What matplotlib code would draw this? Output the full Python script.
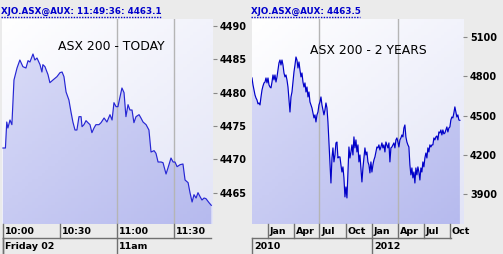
import numpy as np
import pandas as pd
import matplotlib
matplotlib.use('Agg')
import matplotlib.pyplot as plt
import matplotlib.dates as mdates
from matplotlib.colors import to_rgb
from matplotlib.lines import Line2D
from matplotlib.transforms import offset_copy

# intraday data: minutes after 10:00 and index level
today_min = [0.0, 1.3, 2.0, 2.6, 3.7, 4.7, 5.8, 7.4, 8.9, 10.5,
             12.1, 13.2, 14.2, 15.8, 16.8, 17.9, 19.5, 20.5, 21.0, 22.1,
             23.7, 24.7, 26.3, 28.4, 30.0, 31.1, 32.1, 33.2, 34.7, 35.8,
             36.8, 37.9, 38.9, 40.0, 41.1, 41.6, 42.6, 43.7, 44.7, 45.8,
             46.8, 47.9, 48.9, 50.5, 51.6, 53.2, 54.7, 56.3, 57.4, 58.4,
             59.5, 60.5, 61.6, 62.6, 63.7, 64.7, 65.8, 66.8, 67.9, 68.9,
             70.0, 71.6, 72.6, 73.7, 75.3, 76.8, 77.9, 79.5, 80.5, 81.6,
             83.2, 84.2, 85.8, 86.8, 88.4, 89.5, 90.5, 91.6, 93.2, 94.7,
             95.8, 97.4, 98.4, 99.5, 100.5, 101.6, 102.6, 103.7, 104.7, 105.8,
             106.8, 108.4, 109.6]
today_val = [4471.7, 4471.7, 4475.6, 4474.7, 4475.9, 4475.2, 4481.9, 4483.7, 4484.9, 4483.9,
             4483.7, 4484.8, 4484.6, 4485.8, 4484.9, 4485.2, 4484.2, 4483.1, 4484.2, 4483.9,
             4482.7, 4481.5, 4481.9, 4482.4, 4483.0, 4483.1, 4482.4, 4480.1, 4478.9, 4477.1,
             4475.6, 4474.4, 4474.4, 4476.4, 4476.4, 4474.9, 4475.2, 4475.8, 4475.5, 4475.2,
             4474.0, 4474.7, 4475.2, 4475.2, 4475.5, 4476.2, 4475.6, 4476.7, 4475.9, 4478.5,
             4477.9, 4477.9, 4479.4, 4480.7, 4480.0, 4476.4, 4478.2, 4477.4, 4477.4, 4475.5,
             4476.4, 4476.7, 4476.2, 4475.6, 4475.2, 4474.4, 4471.1, 4471.3, 4470.9, 4469.6,
             4469.6, 4469.5, 4467.8, 4468.7, 4470.2, 4469.6, 4469.6, 4468.9, 4469.2, 4469.3,
             4466.9, 4466.5, 4465.0, 4463.6, 4464.7, 4464.2, 4465.0, 4464.4, 4463.9, 4464.2,
             4464.1, 4463.5, 4463.1]

# two year data (sampled evenly between the two dates)
years_start, years_end = '2010-11-06', '2012-11-05'
years_val = [4787, 4734, 4695, 4657, 4634, 4619, 4589, 4596, 4581, 4642,
             4695, 4726, 4749, 4756, 4787, 4749, 4787, 4734, 4718, 4711,
             4756, 4810, 4772, 4810, 4756, 4795, 4848, 4902, 4924, 4886,
             4924, 4886, 4825, 4795, 4810, 4772, 4718, 4619, 4527, 4642,
             4680, 4756, 4833, 4886, 4947, 4924, 4863, 4909, 4848, 4795,
             4825, 4756, 4718, 4749, 4680, 4718, 4642, 4680, 4604, 4581,
             4558, 4520, 4482, 4505, 4451, 4505, 4527, 4581, 4604, 4642,
             4581, 4543, 4505, 4543, 4596, 4558, 4451, 4298, 4146, 3985,
             4176, 4253, 4146, 4199, 4291, 4298, 4176, 4184, 4184, 4123,
             4069, 4108, 4024, 3879, 3955, 3871, 4069, 4260, 4176, 4222,
             4276, 4199, 4337, 4253, 4314, 4222, 4276, 4146, 4199, 4100,
             3993, 4100, 4176, 4253, 4199, 4222, 4146, 4123, 4062, 4146,
             4069, 4123, 4161, 4184, 4222, 4260, 4253, 4276, 4237, 4260,
             4291, 4253, 4276, 4222, 4298, 4276, 4253, 4291, 4146, 4253,
             4260, 4276, 4291, 4253, 4314, 4329, 4298, 4260, 4314, 4329,
             4352, 4337, 4405, 4428, 4337, 4298, 4276, 4260, 4123, 4047,
             4100, 4024, 4069, 3985, 4100, 4047, 4108, 4069, 4008, 4100,
             4069, 4146, 4108, 4176, 4214, 4176, 4253, 4222, 4276, 4260,
             4276, 4276, 4329, 4314, 4337, 4344, 4314, 4375, 4367, 4390,
             4352, 4390, 4360, 4367, 4390, 4413, 4375, 4405, 4413, 4466,
             4489, 4482, 4520, 4566, 4527, 4489, 4505, 4466, 4463.5]

today_yticks = [4465, 4470, 4475, 4480, 4485, 4490]
years_yticks = [3900, 4200, 4500, 4800, 5100]
today_xticks = [0, 30, 60, 90]
today_xlabels = ['10:00', '10:30', '11:00', '11:30']
years_xticks = ['2011-01-01', '2011-04-01', '2011-07-01', '2011-10-01',
                '2012-01-01', '2012-04-01', '2012-07-01', '2012-10-01']
years_xlabels = ['Jan', 'Apr', 'Jul', 'Oct', 'Jan', 'Apr', 'Jul', 'Oct']

W, H = 503, 254
BG = '#ebebeb'
fig = plt.figure(figsize=(W / 100, H / 100), dpi=100, facecolor=BG)
plt.rcParams['font.family'] = 'DejaVu Sans'


def gradient(c0, c1, n=64):
    a, b = np.array(to_rgb(c0)), np.array(to_rgb(c1))
    gx, gy = np.meshgrid(np.linspace(0, 1, n), np.linspace(0, 1, n))
    f = (0.45 * gx + 0.55 * gy)[..., None]
    return a * (1 - f) + b * f


def panel(x0, y0, x1, y1, x, y, xlim, ylim, yticks, grid_x, lc):
    ax = fig.add_axes([x0 / W, 1 - y1 / H, (x1 - x0) / W, (y1 - y0) / H])
    ax.set_xlim(xlim)
    ax.set_ylim(ylim)
    ax.imshow(gradient('#ffffff', '#e2e4f7'), extent=[0, 1, 0, 1],
              transform=ax.transAxes, aspect='auto', zorder=0)
    poly = ax.fill_between(x, y, ylim[0], color='none', lw=0)
    im = ax.imshow(gradient('#dcdef8', '#b6baee'), extent=[0, 1, 0, 1],
                   transform=ax.transAxes, aspect='auto', zorder=1)
    im.set_clip_path(poly.get_paths()[0], transform=ax.transData)
    for g in grid_x:
        ax.axvline(g, color='#b5b5b5', lw=1, zorder=2)
    ax.plot(x, y, color=lc, lw=0.85, zorder=3)
    for s in ax.spines.values():
        s.set_visible(False)
    ax.set_xticks([])
    ax.yaxis.tick_right()
    ax.set_yticks(yticks)
    ax.tick_params(axis='y', length=3, width=0.8, color='#888888', pad=2,
                   labelsize=7)
    for lab in ax.get_yticklabels():
        lab.set_fontweight('bold')
    return ax


def axis_rows(ax, y0, y1, ticks, labels, row2_x, row2_labels, row2_left, hline_end):
    trans = ax.get_xaxis_transform()
    tr_txt = offset_copy(trans, fig=fig, x=2, units='dots')
    fy = lambda p: (y1 - p) / (y1 - y0)
    kw = dict(color='#707070', lw=1, transform=trans, clip_on=False)
    for t, lab in zip(ticks, labels):
        ax.add_line(Line2D([t, t], [fy(224), fy(238)], **kw))
        ax.text(t, fy(231), lab, transform=tr_txt, ha='left', va='center',
                fontsize=6.8, fontweight='bold', color='black', clip_on=False)
    ax.add_line(Line2D([row2_left, hline_end], [fy(238), fy(238)], **kw))
    ax.add_line(Line2D([row2_left, row2_left], [fy(238), fy(254)], **kw))
    for t, lab in zip(row2_x, row2_labels):
        ax.add_line(Line2D([t, t], [fy(238), fy(254)], **kw))
        ax.text(t, fy(246.5), lab, transform=tr_txt, ha='left', va='center',
                fontsize=6.8, fontweight='bold', color='black', clip_on=False)


# left panel: today
ax1 = panel(2, 19, 213, 224, today_min, today_val, (-0.5, 110.5),
            (4460.3, 4491.05), today_yticks, [60, 90], '#2626d4')
axis_rows(ax1, 19, 224, today_xticks, today_xlabels, [0, 60],
          ['Friday 02', '11am'], 0, 109.5)

# right panel: 2 years
dates = pd.date_range(years_start, years_end, periods=len(years_val))
dnum = mdates.date2num(dates)
xt = mdates.date2num(pd.to_datetime(years_xticks))
xl = (mdates.date2num(pd.Timestamp('2010-11-06')),
      mdates.date2num(pd.Timestamp('2012-11-16')))
ax2 = panel(252, 19, 463, 224, dnum, years_val, xl, (3672, 5237),
            years_yticks, [xt[2], xt[5]], '#0000c8')
axis_rows(ax2, 19, 224, xt, years_xlabels, [xt[4]], ['2012'], xl[0], xt[7] + 3)
ax2.text(xl[0], (224 - 246.5) / 205, '2010',
         transform=offset_copy(ax2.get_xaxis_transform(), fig=fig, x=2, units='dots'),
         ha='left', va='center', fontsize=6.8, fontweight='bold', clip_on=False)

# headers and titles
for x0, x1, txt in [(1, 161, 'XJO.ASX@AUX: 11:49:36: 4463.1'),
                    (251, 360, 'XJO.ASX@AUX: 4463.5')]:
    fig.text(x0 / W, 1 - 14 / H, txt, color='#0000cc', fontsize=6.3,
             fontweight='bold', ha='left', va='baseline')
    fig.add_artist(Line2D([x0 / W, x1 / W], [1 - 16.5 / H, 1 - 16.5 / H],
                          transform=fig.transFigure, color='#0000cc', lw=1,
                          linestyle=(0, (1, 1))))

fig.text(111 / W, 1 - 46 / H, 'ASX 200 - TODAY', fontsize=8.9,
         ha='center', va='center', color='black')
fig.text(368 / W, 1 - 50 / H, 'ASX 200 - 2 YEARS', fontsize=8.9,
         ha='center', va='center', color='black')

fig.savefig('out.png', dpi=100, facecolor=BG)
